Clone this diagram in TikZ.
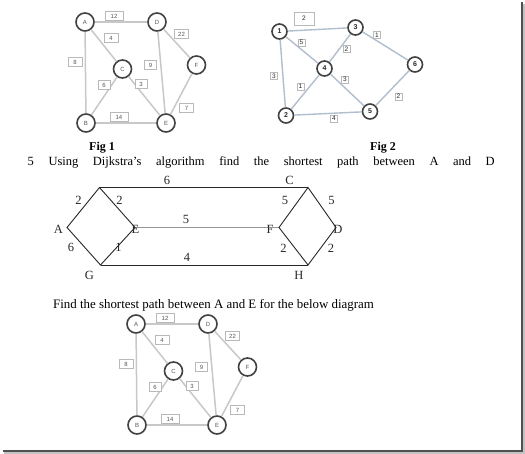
\documentclass[tikz,border=0pt]{standalone}
\usepackage{fontspec}
\setmainfont{Liberation Serif}
\setsansfont{Liberation Sans}
\usetikzlibrary{positioning}
\definecolor{DjInk}{RGB}{40,40,40}
\definecolor{DjRing}{RGB}{65,65,65}
\definecolor{DjEdge}{RGB}{200,200,200}
\definecolor{DjBlueEdge}{RGB}{178,190,206}
\definecolor{DjBoxLine}{RGB}{185,185,185}
\definecolor{DjLabel}{RGB}{85,85,85}
\definecolor{DjMidLine}{RGB}{150,150,150}
\definecolor{DjShadow}{RGB}{80,80,80}
\definecolor{DjShadowSoft}{RGB}{195,195,195}
\tikzset{
  dj/vertex/.style={
    circle,
    draw=DjRing,
    line width=1.6pt,
    fill=white,
    minimum size=18pt,
    inner sep=0pt,
    text=DjLabel,
    font=\sffamily\fontsize{6}{6}\selectfont
  },
  dj/numvertex/.style={
    circle,
    draw=DjRing,
    line width=1.6pt,
    fill=white,
    minimum size=15pt,
    inner sep=0pt,
    text=DjInk,
    font=\sffamily\bfseries\fontsize{7}{7}\selectfont
  },
  dj/weight/.style={
    draw=DjBoxLine,
    line width=0.6pt,
    fill=white,
    minimum width=14pt,
    minimum height=9pt,
    inner sep=1pt,
    text=DjLabel,
    font=\sffamily\fontsize{6}{6}\selectfont
  },
  dj/tag/.style={
    draw=DjBoxLine,
    line width=0.5pt,
    fill=white,
    minimum width=7pt,
    minimum height=7pt,
    inner sep=0.5pt,
    text=DjInk,
    font=\sffamily\fontsize{6.5}{6.5}\selectfont
  },
  dj/edge/.style={draw=DjEdge, line width=1.5pt},
  dj/blueedge/.style={draw=DjBlueEdge, line width=1.4pt},
  dj/line/.style={draw=DjInk, line width=0.9pt},
  dj/grayline/.style={draw=DjMidLine, line width=1.7pt},
  dj/letter/.style={inner sep=0pt, text=DjInk, font=\fontsize{12.5}{12.5}\selectfont},
  dj/caption/.style={inner sep=0pt, anchor=base west, font=\bfseries\fontsize{12}{12}\selectfont},
  dj/text/.style={inner sep=0pt, anchor=base west, font=\fontsize{12.5}{14}\selectfont}
}

\begin{document}
\begin{tikzpicture}[x=1pt,y=-1pt]
  \useasboundingbox[fill=white] (0,0) rectangle (525,454);
  % window shadow
  \fill[DjShadowSoft] (523,4) rectangle (525,454);
  \fill[DjShadowSoft] (4,452) rectangle (525,454);
  \fill[DjShadow] (521,2) rectangle (523,452);
  \fill[DjShadow] (3,450) rectangle (523,452);

  % Fig 1 and the copy below it
  \begin{scope}
  \clip (0,0) rectangle (525,434);
  \foreach \g/\dx/\dy in {top/0/0, low/51/302}{
  \begin{scope}[shift={(\dx,\dy)}]
    \node[dj/vertex] (\g A) at (85,22) {A};
    \node[dj/vertex] (\g D) at (157,22) {D};
    \node[dj/vertex] (\g C) at (122.5,69) {C};
    \node[dj/vertex] (\g F) at (196.5,65) {F};
    \node[dj/vertex] (\g B) at (86,123) {B};
    \node[dj/vertex] (\g E) at (166,123) {E};
    \draw[dj/edge] (\g A) -- (\g D);
    \draw[dj/edge] (\g A) -- (\g C);
    \draw[dj/edge] (\g A) -- (\g B);
    \draw[dj/edge] (\g D) -- (\g F);
    \draw[dj/edge] (\g D) -- (\g E);
    \draw[dj/edge] (\g C) -- (\g B);
    \draw[dj/edge] (\g C) -- (\g E);
    \draw[dj/edge] (\g F) -- (\g E);
    \draw[dj/edge] (\g B) -- (\g E);
    \node[dj/weight,minimum width=18pt] (\g wAD) at (114,16) {12};
    \node[dj/weight] (\g wAC) at (111,38) {4};
    \node[dj/weight] (\g wDF) at (181.5,34) {22};
    \node[dj/weight] (\g wAB) at (75,62) {8};
    \node[dj/weight,minimum width=12pt] (\g wDE) at (150.5,65) {9};
    \node[dj/weight,minimum width=12pt] (\g wCB) at (104,85) {6};
    \node[dj/weight,minimum width=12pt] (\g wCE) at (141,84) {3};
    \node[dj/weight] (\g wFE) at (186.5,108) {7};
    \node[dj/weight,minimum width=18pt] (\g wBE) at (119,117) {14};
  \end{scope}
  }
  \end{scope}

  % Fig 2
  \node[dj/numvertex] (n1) at (279.5,31.5) {1};
  \node[dj/numvertex] (n3) at (355.5,27.5) {3};
  \node[dj/numvertex] (n4) at (324.5,68.5) {4};
  \node[dj/numvertex] (n6) at (415,64.5) {6};
  \node[dj/numvertex] (n2) at (286,115.5) {2};
  \node[dj/numvertex] (n5) at (370,111.5) {5};
  \draw[dj/blueedge] (n1) -- (n3);
  \draw[dj/blueedge] (n1) -- (n4);
  \draw[dj/blueedge] (n1) -- (n2);
  \draw[dj/blueedge] (n3) -- (n4);
  \draw[dj/blueedge] (n3) -- (n6);
  \draw[dj/blueedge] (n4) -- (n2);
  \draw[dj/blueedge] (n4) -- (n5);
  \draw[dj/blueedge] (n2) -- (n5);
  \draw[dj/blueedge] (n5) -- (n6);
  \node[dj/tag,minimum width=20pt,minimum height=13pt] (w13) at (304,18.5) {2};
  \node[dj/tag] (w14) at (301.5,42.5) {5};
  \node[dj/tag] (w36) at (377,35) {1};
  \node[dj/tag] (w34) at (346.5,49) {2};
  \node[dj/tag] (w12) at (274,76) {3};
  \node[dj/tag] (w45) at (345,79.5) {3};
  \node[dj/tag] (w42) at (300.5,86.5) {1};
  \node[dj/tag] (w56) at (398.5,96.5) {2};
  \node[dj/tag] (w25) at (334,118.5) {4};

  % captions and task
  \node[dj/caption] (cap1) at (89,150.5) {Fig 1};
  \node[dj/caption] (cap2) at (370,150.5) {Fig 2};
  \node[dj/text] (task1) at (27.5,165.5)
    {\makebox[467pt][s]{5 Using Dijkstra’s algorithm find the shortest path between A and D}};

  % hexagon graph
  \coordinate (A) at (67,227.5);
  \coordinate (T) at (99.5,187.5);
  \coordinate (E) at (135,227.5);
  \coordinate (G) at (100.5,265);
  \coordinate (C) at (308,187.5);
  \coordinate (F) at (279,227.5);
  \coordinate (D) at (336,227.5);
  \coordinate (H) at (308,265);
  \draw[dj/grayline] (E) -- (F);
  \draw[dj/line] (A) -- (T) -- (E) -- (G) -- cycle;
  \draw[dj/line] (T) -- (C);
  \draw[dj/line] (G) -- (H);
  \draw[dj/line] (C) -- (F) -- (H) -- (D) -- cycle;
  \node[dj/letter] (lA) at (58.5,229.5) {A};
  \node[dj/letter] (lE) at (135.5,229.5) {E};
  \node[dj/letter] (lF) at (270,229.5) {F};
  \node[dj/letter] (lD) at (338,229.5) {D};
  \node[dj/letter] (lC) at (289.5,180.5) {C};
  \node[dj/letter] (lG) at (89.5,275.5) {G};
  \node[dj/letter] (lH) at (299,275.5) {H};
  \node[dj/letter] (wAT) at (78.5,200) {2};
  \node[dj/letter] (wTE) at (119.5,200) {2};
  \node[dj/letter] (wTC) at (167,180.5) {6};
  \node[dj/letter] (wCF) at (285,200) {5};
  \node[dj/letter] (wCD) at (331.5,200) {5};
  \node[dj/letter] (wEF) at (186,219.5) {5};
  \node[dj/letter] (wAG) at (71,247.5) {6};
  \node[dj/letter] (wGE) at (118.5,247.5) {1};
  \node[dj/letter] (wFH) at (283.5,248) {2};
  \node[dj/letter] (wHD) at (331,248) {2};
  \node[dj/letter] (wGH) at (187,257) {4};

  \node[dj/text,font=\fontsize{12.9}{14}\selectfont] (task2) at (53,309)
    {Find the shortest path between A and E for the below diagram};
\end{tikzpicture}
\end{document}
